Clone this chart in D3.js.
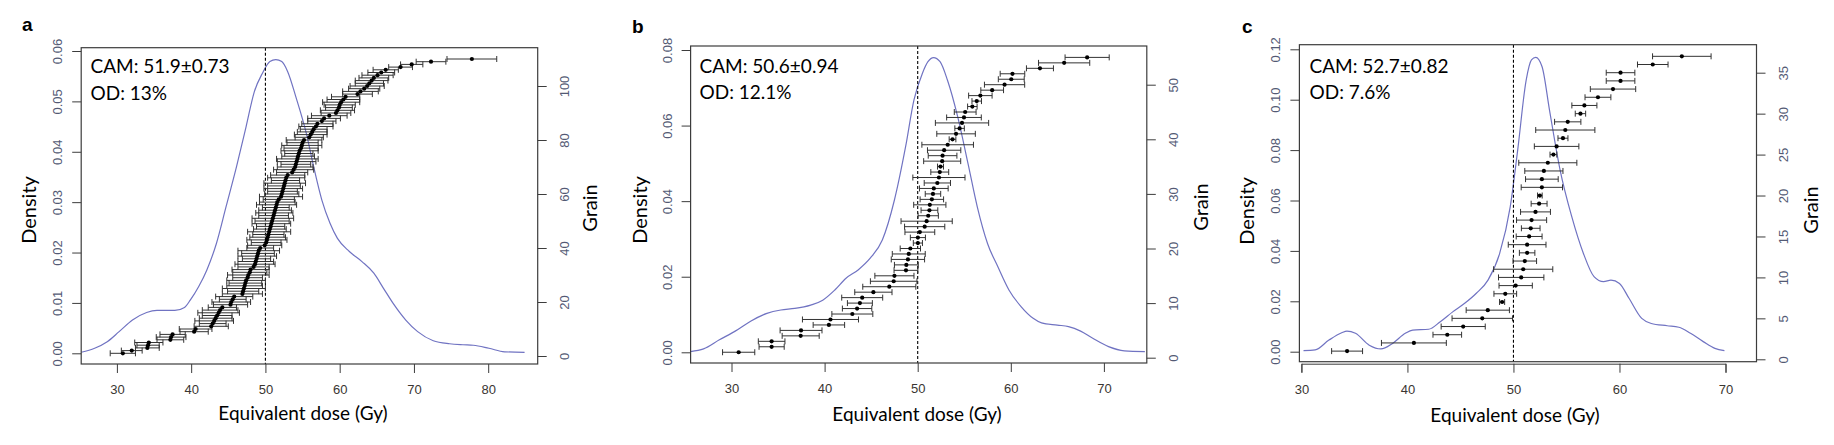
<!DOCTYPE html>
<html>
<head>
<meta charset="utf-8">
<script src="https://cdn.jsdelivr.net/npm/d3@7"></script>
<style>
  body { margin: 0; background: #fff; }
  svg { display: block; }
</style>
</head>
<body>
<div id="chart"></div>
<script>
// Panel a: grain doses (Gy), standard errors, density curve samples
const doseA = [30.8, 32.0, 34.1, 34.2, 34.3, 37.2, 37.3, 37.5, 40.4, 40.6,
  42.7, 42.9, 43.1, 43.3, 43.5, 43.7, 43.9, 44.2, 45.3, 45.4,
  45.6, 45.8, 46.9, 47.0, 47.1, 47.2, 47.3, 47.4, 47.6, 47.7,
  47.9, 48.0, 48.4, 48.6, 48.7, 48.8, 48.9, 49.0, 49.1, 49.3,
  49.9, 50.1, 50.2, 50.3, 50.4, 50.5, 50.6, 50.7, 50.8, 50.9,
  51.0, 51.1, 51.2, 51.3, 51.4, 51.5, 51.6, 51.8, 52.1, 52.2,
  52.3, 52.4, 52.5, 52.6, 52.7, 52.8, 53.0, 53.6, 53.8, 54.0,
  54.1, 54.2, 54.3, 54.4, 54.5, 54.6, 54.8, 54.9, 55.0, 55.2,
  55.9, 56.1, 56.3, 56.5, 56.8, 57.0, 57.6, 57.9, 58.6, 59.5,
  59.7, 59.9, 60.0, 60.2, 60.5, 60.8, 62.4, 62.8, 63.3, 63.7,
  64.0, 64.3, 64.6, 65.1, 65.6, 66.2, 68.2, 69.7, 72.3, 77.8];
const seA = [1.7, 1.4, 1.6, 1.5, 1.9, 1.8, 2.0, 1.7, 1.9, 2.2,
  2.3, 1.8, 2.6, 2.2, 2.0, 2.8, 2.4, 1.9, 2.3, 2.6,
  1.8, 2.5, 2.7, 2.1, 2.9, 2.4, 2.2, 2.6, 2.0, 2.8,
  2.3, 2.5, 2.1, 2.7, 2.4, 1.9, 2.6, 2.2, 2.8, 1.8,
  2.3, 2.0, 2.7, 2.4, 2.1, 2.9, 2.2, 1.9, 2.6, 2.3,
  2.8, 2.0, 2.5, 2.2, 1.8, 2.7, 2.4, 2.1, 2.9, 2.3,
  2.0, 2.6, 2.2, 2.8, 1.9, 2.5, 2.3, 2.1, 2.7, 2.4,
  2.0, 2.6, 2.8, 2.2, 1.9, 2.5, 2.3, 2.7, 2.1, 2.4,
  1.9, 2.2, 2.0, 1.8, 2.3, 2.1, 1.9, 2.2, 2.4, 2.0,
  2.3, 1.8, 2.1, 2.5, 2.2, 1.9, 2.0, 2.4, 2.1, 2.3,
  1.9, 2.2, 2.0, 2.1, 1.8, 1.7, 1.6, 1.5, 2.0, 3.35];
const densXA = [25.2, 27.0, 28.7, 30.3, 32.1, 34.0, 35.4, 37.8, 39.1, 39.9,
  41.0, 42.1, 43.4, 44.7, 46.1, 47.4, 48.5, 49.6, 50.6, 51.4,
  52.2, 53.0, 54.1, 55.5, 56.5, 57.6, 58.7, 59.7, 61.3, 63.0,
  64.6, 65.9, 67.2, 68.9, 70.5, 72.6, 74.8, 76.6, 78.0, 80.1, 82.2, 84.9];
const densYA = [0.0002, 0.0010, 0.0023, 0.0043, 0.0066, 0.0081, 0.0085, 0.0085, 0.0091, 0.0106,
  0.0132, 0.0165, 0.0218, 0.0291, 0.0370, 0.0450, 0.0519, 0.0556, 0.0579, 0.0583,
  0.0579, 0.0559, 0.0509, 0.0437, 0.0370, 0.0304, 0.0258, 0.0228, 0.0202, 0.0182,
  0.0159, 0.0129, 0.0099, 0.0066, 0.0043, 0.0025, 0.0019, 0.0017, 0.0016, 0.0010, 0.0003, 0.0002];

// Panel b
const doseB = [30.77, 34.31, 34.31, 37.43, 37.47, 40.46, 40.63, 42.98, 43.49, 43.79,
  44.04, 45.24, 46.95, 47.42, 47.50, 48.74, 48.78, 48.95, 49.04, 49.21,
  50.02, 50.02, 50.23, 50.75, 50.96, 51.13, 51.26, 51.30, 51.52, 51.64,
  51.73, 52.11, 52.28, 52.37, 52.45, 52.63, 52.67, 52.84, 53.22, 53.74,
  54.12, 54.50, 54.76, 54.97, 55.10, 55.87, 56.34, 56.73, 58.00, 59.33,
  60.05, 60.18, 63.13, 65.73, 68.20];
const seB = [1.73, 1.35, 1.43, 1.99, 2.25, 1.69, 3.01, 2.20, 1.58, 1.34,
  2.20, 2.00, 2.85, 2.50, 2.10, 1.28, 1.28, 1.79, 1.77, 1.09,
  0.49, 0.81, 1.60, 2.16, 2.75, 1.09, 0.90, 1.73, 1.26, 0.83,
  1.54, 1.41, 2.80, 0.96, 0.32, 1.99, 1.54, 1.79, 2.77, 0.36,
  2.07, 0.51, 2.86, 1.86, 1.17, 0.51, 0.51, 1.26, 1.22, 2.16,
  1.39, 1.32, 1.45, 2.75, 2.37];
const densXB = [25.6, 27.0, 28.7, 30.4, 32.1, 33.8, 35.3, 36.8, 38.5, 39.8,
  41.1, 42.3, 43.6, 44.9, 46.2, 47.5, 48.7, 49.6, 50.5, 51.1,
  51.7, 52.4, 53.2, 54.3, 55.4, 56.4, 57.5, 58.6, 59.8, 61.1,
  62.4, 63.3, 65.0, 66.2, 67.5, 68.8, 70.5, 72.2, 74.4];
const densYB = [0.0002, 0.0009, 0.0033, 0.0056, 0.0083, 0.0103, 0.0112, 0.0116, 0.0125, 0.0138,
  0.0165, 0.0196, 0.0218, 0.0249, 0.0297, 0.0403, 0.0544, 0.0668, 0.0738, 0.0769,
  0.0780, 0.0769, 0.0720, 0.0623, 0.0500, 0.0385, 0.0288, 0.0227, 0.0165, 0.0121,
  0.0090, 0.0078, 0.0072, 0.0068, 0.0056, 0.0037, 0.0015, 0.0004, 0.0002];

// Panel c
const doseC = [34.31, 40.61, 43.76, 45.26, 47.06, 47.58, 48.93, 49.23, 50.21, 50.73,
  50.92, 51.07, 51.29, 51.29, 51.48, 51.63, 51.71, 52.08, 52.42, 52.49,
  52.68, 52.68, 52.87, 53.24, 53.77, 54.07, 54.67, 54.89, 55.12, 56.32,
  56.69, 57.97, 59.39, 60.10, 60.10, 63.14, 65.88];
const seC = [1.46, 3.06, 1.35, 2.08, 2.85, 2.04, 0.24, 1.07, 1.57, 2.14,
  2.79, 1.11, 0.73, 1.78, 1.22, 0.88, 1.42, 1.41, 0.75, 0.22,
  1.95, 1.54, 1.80, 2.74, 0.32, 2.10, 0.47, 2.79, 1.24, 0.49,
  1.18, 1.22, 2.14, 1.35, 1.35, 1.44, 2.76];
const densXC = [30.2, 31.3, 32.6, 33.8, 34.3, 35.1, 36.4, 37.5, 38.6, 39.8,
  40.5, 42.0, 43.1, 44.3, 45.4, 46.5, 47.6, 48.7, 49.7, 50.4,
  51.2, 51.7, 52.1, 52.7, 53.4, 54.4, 55.5, 56.6, 57.6, 58.5,
  59.2, 60.0, 60.9, 62.1, 63.0, 64.5, 65.6, 66.7, 67.9, 69.0, 69.9];
const densYC = [0.0004, 0.0007, 0.0046, 0.0075, 0.0082, 0.0073, 0.0026, 0.0011, 0.0033, 0.0073,
  0.0086, 0.0089, 0.0119, 0.0159, 0.0192, 0.0232, 0.0284, 0.0390, 0.0576, 0.0800,
  0.1078, 0.1158, 0.1168, 0.1131, 0.0959, 0.0721, 0.0536, 0.0390, 0.0298, 0.0278,
  0.0284, 0.0271, 0.0212, 0.0132, 0.0112, 0.0103, 0.0097, 0.0073, 0.0040, 0.0013, 0.0004];

const labels = ['a', 'b', 'c'];
const camTexts = ['CAM: 51.9\u00b10.73', 'CAM: 50.6\u00b10.94', 'CAM: 52.7\u00b10.82'];
const odTexts = ['OD: 13%', 'OD: 12.1%', 'OD: 7.6%'];
const xTicks = [[30, 40, 50, 60, 70, 80], [30, 40, 50, 60, 70], [30, 40, 50, 60, 70]];
const densTicks = [[0, 0.01, 0.02, 0.03, 0.04, 0.05, 0.06], [0, 0.02, 0.04, 0.06, 0.08], [0, 0.02, 0.04, 0.06, 0.08, 0.10, 0.12]];
const grainTicks = [[0, 20, 40, 60, 80, 100], [0, 10, 20, 30, 40, 50], [0, 5, 10, 15, 20, 25, 30, 35]];
const refDose = 50;

const W = 1834, H = 445;
const svg = d3.select('#chart').append('svg')
  .attr('width', W)
  .attr('height', H);
svg.append('rect').attr('width', W).attr('height', H).attr('fill', '#fff');

const layout = [
  { box: { l: 81.2, r: 537.7, t: 47.7, b: 364 }, xr: [116.9, 488.2], yl: [353.3, 51], yr: [356, 86],
    tag: [22, 31], dens: [36, 210], grain: [597, 208], title: [303, 420], cam: [90.5, 73], axisLine: false },
  { box: { l: 690.6, r: 1146.8, t: 46, b: 363 }, xr: [731.5, 1103.9], yl: [352.3, 50], yr: [357.7, 84.7],
    tag: [632, 33], dens: [647, 210], grain: [1208, 207], title: [917, 421], cam: [699.5, 72.7], axisLine: false },
  { box: { l: 1299.4, r: 1756.5, t: 44.7, b: 361.7 }, xr: [1301.4, 1725.5], yl: [351.7, 49.3], yr: [359.3, 72.7],
    tag: [1242, 33], dens: [1254, 211], grain: [1818, 210], title: [1515, 422], cam: [1309.5, 72.7], axisLine: true }
];

const panels = [
  { dose: doseA, se: seA, dx: densXA, dy: densYA },
  { dose: doseB, se: seB, dx: densXB, dy: densYB },
  { dose: doseC, se: seC, dx: densXC, dy: densYC }
];

const tickFont = '"Liberation Sans", Arial, sans-serif';
const textFont = 'Lato, "Open Sans", sans-serif';

panels.forEach((p, i) => {
  const L = layout[i];
  const box = L.box;
  const xt = xTicks[i], dt = densTicks[i], gt = grainTicks[i];

  const x = d3.scaleLinear().domain([xt[0], xt[xt.length - 1]]).range(L.xr);
  const yD = d3.scaleLinear().domain([dt[0], dt[dt.length - 1]]).range(L.yl);
  const yG = d3.scaleLinear().domain([gt[0], gt[gt.length - 1]]).range(L.yr);

  const g = svg.append('g');

  // clip to the plot frame
  const clipId = `clip-${i}`;
  g.append('clipPath').attr('id', clipId)
    .append('rect')
    .attr('x', box.l).attr('y', box.t)
    .attr('width', box.r - box.l).attr('height', box.b - box.t);

  const plot = g.append('g').attr('clip-path', `url(#${clipId})`);

  // density curve
  const dens = p.dx.map((v, k) => ({ x: v, y: p.dy[k] }));
  const line = d3.line()
    .x(d => x(d.x))
    .y(d => yD(d.y))
    .curve(d3.curveMonotoneX);

  plot.append('path')
    .datum(dens)
    .attr('fill', 'none')
    .attr('stroke', '#7073c2')
    .attr('stroke-width', 1.2)
    .attr('d', line);

  // reference dose line
  plot.append('line')
    .attr('x1', x(refDose)).attr('x2', x(refDose))
    .attr('y1', box.t).attr('y2', box.b)
    .attr('stroke', '#000')
    .attr('stroke-width', 1.1)
    .attr('stroke-dasharray', '3,2');

  // grains with error bars
  const grains = p.dose.map((v, k) => ({ n: k + 1, d: v, s: p.se[k] }));

  const bars = plot.selectAll('.bar')
    .data(grains)
    .enter()
    .append('g')
    .attr('class', 'bar')
    .attr('stroke', '#333')
    .attr('stroke-width', 1);

  bars.append('line')
    .attr('x1', d => x(d.d - d.s)).attr('x2', d => x(d.d + d.s))
    .attr('y1', d => yG(d.n)).attr('y2', d => yG(d.n));
  bars.append('line')
    .attr('x1', d => x(d.d - d.s)).attr('x2', d => x(d.d - d.s))
    .attr('y1', d => yG(d.n) - 3).attr('y2', d => yG(d.n) + 3);
  bars.append('line')
    .attr('x1', d => x(d.d + d.s)).attr('x2', d => x(d.d + d.s))
    .attr('y1', d => yG(d.n) - 3).attr('y2', d => yG(d.n) + 3);

  plot.selectAll('.pt')
    .data(grains)
    .enter()
    .append('circle')
    .attr('class', 'pt')
    .attr('cx', d => x(d.d))
    .attr('cy', d => yG(d.n))
    .attr('r', 2.1)
    .attr('fill', '#000');

  // frame
  g.append('rect')
    .attr('x', box.l).attr('y', box.t)
    .attr('width', box.r - box.l).attr('height', box.b - box.t)
    .attr('fill', 'none')
    .attr('stroke', '#3c3c3c')
    .attr('stroke-width', 1.2);

  // bottom axis
  const xAxis = g.append('g')
    .attr('transform', `translate(0,${L.axisLine ? box.b + 2 : box.b})`)
    .call(d3.axisBottom(x).tickValues(xt).tickSize(9).tickFormat(d3.format('d')));
  xAxis.select('.domain').attr('stroke', L.axisLine ? '#3c3c3c' : 'none');
  xAxis.selectAll('.tick line').attr('stroke', '#3c3c3c');
  xAxis.selectAll('.tick text')
    .attr('y', 30).attr('dy', 0)
    .attr('fill', '#3a3632')
    .style('font-family', tickFont)
    .style('font-size', '13px');

  // left axis (density)
  const yAxisL = g.append('g')
    .attr('transform', `translate(${box.l},0)`)
    .call(d3.axisLeft(yD).tickValues(dt).tickSize(9).tickFormat(d3.format('.2f')));
  yAxisL.select('.domain').remove();
  yAxisL.selectAll('.tick line').attr('stroke', '#3c3c3c');
  yAxisL.selectAll('.tick text')
    .attr('transform', 'rotate(-90)')
    .attr('x', 0).attr('y', -19).attr('dy', 0)
    .attr('text-anchor', 'middle')
    .attr('fill', '#535a74')
    .style('font-family', tickFont)
    .style('font-size', '13px');

  // right axis (grain)
  const yAxisR = g.append('g')
    .attr('transform', `translate(${box.r},0)`)
    .call(d3.axisRight(yG).tickValues(gt).tickSize(9).tickFormat(d3.format('d')));
  yAxisR.select('.domain').remove();
  yAxisR.selectAll('.tick line').attr('stroke', '#3c3c3c');
  yAxisR.selectAll('.tick text')
    .attr('transform', 'rotate(-90)')
    .attr('x', 0).attr('y', 31).attr('dy', 0)
    .attr('text-anchor', 'middle')
    .attr('fill', '#535a74')
    .style('font-family', tickFont)
    .style('font-size', '13px');

  // titles
  g.append('text')
    .attr('x', L.tag[0]).attr('y', L.tag[1])
    .attr('font-family', '"Liberation Sans", Arial, sans-serif')
    .attr('font-weight', 'bold')
    .attr('font-size', 19)
    .text(labels[i]);

  g.append('text')
    .attr('transform', `translate(${L.dens[0]},${L.dens[1]}) rotate(-90)`)
    .attr('text-anchor', 'middle')
    .attr('font-family', textFont)
    .attr('font-size', 20)
    .text('Density');

  g.append('text')
    .attr('transform', `translate(${L.grain[0]},${L.grain[1]}) rotate(-90)`)
    .attr('text-anchor', 'middle')
    .attr('font-family', textFont)
    .attr('font-size', 20)
    .text('Grain');

  g.append('text')
    .attr('x', L.title[0]).attr('y', L.title[1])
    .attr('text-anchor', 'middle')
    .attr('font-family', textFont)
    .attr('font-size', 19)
    .text('Equivalent dose (Gy)');

  g.append('text')
    .attr('x', L.cam[0]).attr('y', L.cam[1])
    .attr('font-family', textFont)
    .attr('font-size', 19)
    .text(camTexts[i]);

  g.append('text')
    .attr('x', L.cam[0]).attr('y', L.cam[1] + 26.6)
    .attr('font-family', textFont)
    .attr('font-size', 19)
    .text(odTexts[i]);
});
</script>
</body>
</html>
